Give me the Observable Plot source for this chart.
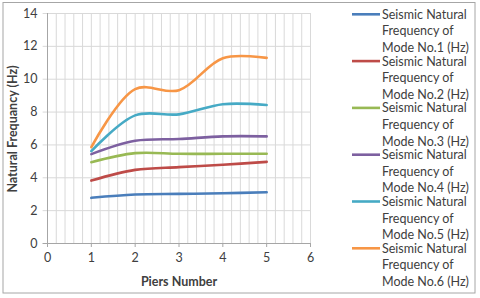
<!DOCTYPE html>
<html><head><meta charset="utf-8">
<script src="https://cdn.jsdelivr.net/npm/d3@7"></script>
<script src="https://cdn.jsdelivr.net/npm/@observablehq/plot@0.6"></script>
<style>
body{margin:0;background:#fff;}
#chart{position:relative;width:480px;height:298px;}
</style></head>
<body><div id="chart"></div>
<script>
const piers = [1, 2, 3, 4, 5];
const seriesNames = [
  "Seismic Natural Frequency of Mode No.1 (Hz)",
  "Seismic Natural Frequency of Mode No.2 (Hz)",
  "Seismic Natural Frequency of Mode No.3 (Hz)",
  "Seismic Natural Frequency of Mode No.4 (Hz)",
  "Seismic Natural Frequency of Mode No.5 (Hz)",
  "Seismic Natural Frequency of Mode No.6 (Hz)"
];
const mode1 = [2.78, 2.98, 3.02, 3.06, 3.12];
const mode2 = [3.83, 4.48, 4.65, 4.79, 4.97];
const mode3 = [4.95, 5.50, 5.46, 5.46, 5.46];
const mode4 = [5.44, 6.25, 6.36, 6.52, 6.52];
const mode5 = [5.62, 7.80, 7.86, 8.48, 8.43];
const mode6 = [5.86, 9.40, 9.33, 11.28, 11.30];
const colors = ["#4a7ebb", "#be4b48", "#98b954", "#7d60a0", "#46aac5", "#f79646"];
const xTicks = [0, 1, 2, 3, 4, 5, 6];
const yTicks = [0, 2, 4, 6, 8, 10, 12, 14];
const minorX = d3.range(0, 31).map(i => i / 5);

const allModes = [mode1, mode2, mode3, mode4, mode5, mode6];
const data = allModes.flatMap((vals, s) => vals.map((v, i) => ({x: piers[i], y: v, s: seriesNames[s]})));

const font = "Lato, 'Open Sans', sans-serif";
const plot = Plot.plot({
  width: 480, height: 298,
  marginLeft: 47, marginRight: 170, marginTop: 13, marginBottom: 55,
  style: {fontFamily: font, fontSize: "12.5px", color: "#404040", background: "transparent"},
  x: {domain: [0, 6], ticks: xTicks, label: null, tickFormat: d3.format("d")},
  y: {domain: [0, 14], ticks: yTicks, label: null, tickFormat: d3.format("d")},
  color: {domain: seriesNames, range: colors},
  marks: [
    Plot.ruleX(minorX, {stroke: "#d9d9d9", strokeWidth: 1, strokeOpacity: 1}),
    Plot.ruleY(yTicks, {x1: -0.1, x2: 6, stroke: "#d9d9d9", strokeWidth: 1, strokeOpacity: 1}),
    Plot.ruleX([0], {stroke: "#a6a6a6", y1: 0, y2: 14}),
    Plot.ruleY([0], {stroke: "#a6a6a6", x1: -0.1, x2: 6}),
    Plot.axisX({ticks: xTicks, tickSize: 4, stroke: "#a6a6a6", tickPadding: 6, fill: "#404040", fontSize: 12.5, tickFormat: d3.format("d")}),
    Plot.axisY({ticks: yTicks, tickSize: 0, tickPadding: 10, fill: "#404040", fontSize: 12.5, tickFormat: d3.format("d")}),
    Plot.line(data, {x: "x", y: "y", z: "s", stroke: "s", strokeWidth: 2.6, curve: "catmull-rom"})
  ]
});
document.getElementById("chart").appendChild(plot);

const svg = d3.select(plot);
// border
svg.append("rect").attr("x", 3).attr("y", 2.5).attr("width", 472).attr("height", 290.5)
  .attr("fill", "none").attr("stroke", "#a6a6a6").attr("stroke-width", 1);
// axis titles
svg.append("text").attr("x", 179).attr("y", 286).attr("text-anchor", "middle")
  .attr("font-family", font).attr("font-weight", "bold").attr("font-size", 12.5).attr("fill", "#404040")
  .text("Piers Number");
svg.append("text").attr("transform", "translate(17,129) rotate(-90)").attr("text-anchor", "middle")
  .attr("font-family", font).attr("font-weight", "bold").attr("font-size", 12.5).attr("fill", "#404040")
  .text("Natural Frequancy (Hz)");
// legend
seriesNames.forEach((name, i) => {
  const y0 = 14.3 + i * 46.8;
  svg.append("line").attr("x1", 352).attr("x2", 380).attr("y1", y0).attr("y2", y0)
    .attr("stroke", colors[i]).attr("stroke-width", 2.6);
  const m = name.match(/^(Seismic Natural) (Frequency of) (.*)$/);
  [m[1], m[2], m[3]].forEach((t, k) => {
    svg.append("text").attr("x", 382).attr("y", y0 + 4.5 + k * 16.6).attr("text-anchor", "start")
      .attr("font-family", font).attr("font-size", 12.5).attr("fill", "#404040").text(t);
  });
});
</script></body></html>
